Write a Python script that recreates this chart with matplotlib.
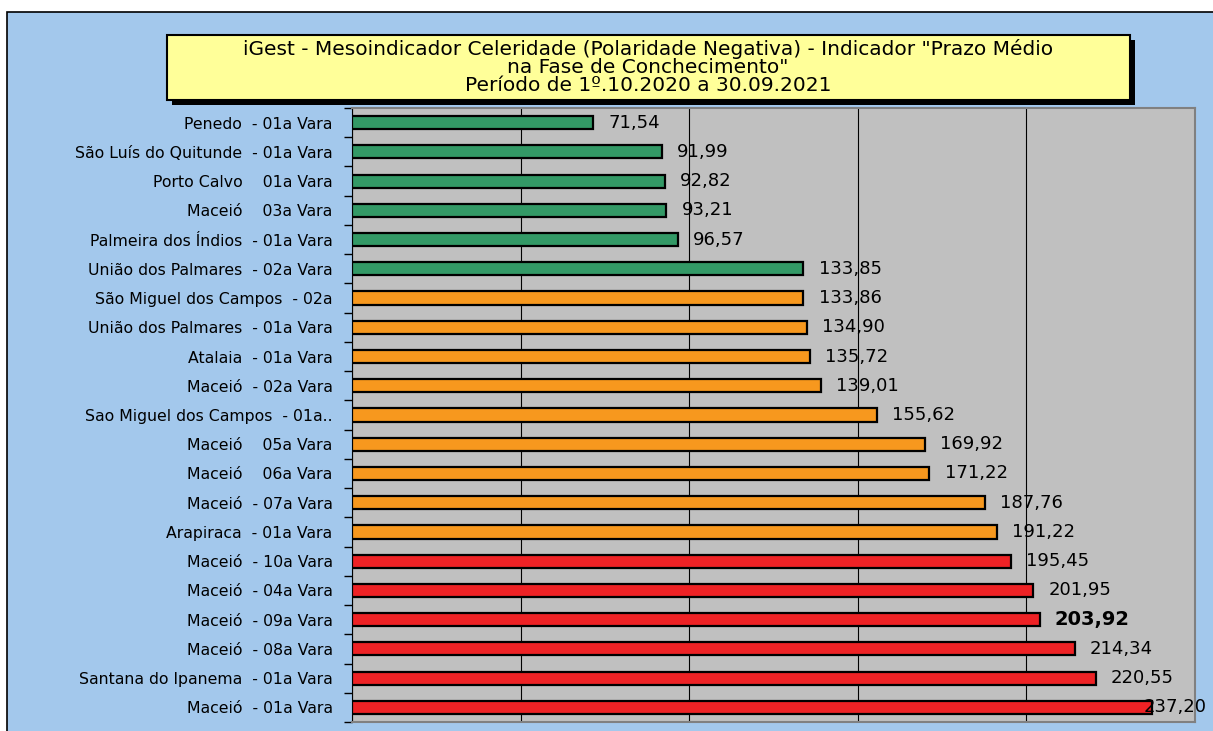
"""Recreate the iGest Prazo Medio horizontal bar chart."""

import matplotlib.pyplot as plt
from matplotlib.patches import Rectangle

plt.rcParams["font.family"] = ["DejaVu Sans"]

categories = [
    "Penedo  - 01a Vara",
    "São Luís do Quitunde  - 01a Vara",
    "Porto Calvo    01a Vara",
    "Maceió    03a Vara",
    "Palmeira dos Índios  - 01a Vara",
    "União dos Palmares  - 02a Vara",
    "São Miguel dos Campos  - 02a",
    "União dos Palmares  - 01a Vara",
    "Atalaia  - 01a Vara",
    "Maceió  - 02a Vara",
    "Sao Miguel dos Campos  - 01a..",
    "Maceió    05a Vara",
    "Maceió    06a Vara",
    "Maceió  - 07a Vara",
    "Arapiraca  - 01a Vara",
    "Maceió  - 10a Vara",
    "Maceió  - 04a Vara",
    "Maceió  - 09a Vara",
    "Maceió  - 08a Vara",
    "Santana do Ipanema  - 01a Vara",
    "Maceió  - 01a Vara",
]
values = [71.54, 91.99, 92.82, 93.21, 96.57, 133.85, 133.86, 134.90, 135.72,
          139.01, 155.62, 169.92, 171.22, 187.76, 191.22, 195.45, 201.95,
          203.92, 214.34, 220.55, 237.20]
groups = ["verde"] * 6 + ["laranja"] * 9 + ["vermelho"] * 6
highlight = "Maceió  - 09a Vara"

group_colors = {"verde": "#339966", "laranja": "#F7981E", "vermelho": "#EE2225"}
x_max = 250
x_ticks = [0, 50, 100, 150, 200, 250]

fig = plt.figure(figsize=(12.13, 7.31), dpi=100, facecolor="white")

# blue chart background with black border on top/left
fig.patches.append(Rectangle((7 / 1213, -0.01), 1.01, 1 - 12 / 731 + 0.01,
                             transform=fig.transFigure, facecolor="#A3C8EC",
                             edgecolor="black", linewidth=1.2, zorder=-5))

ax = fig.add_axes([352 / 1213, 9 / 731, (1195 - 352) / 1213, (722 - 108) / 731])
ax.set_facecolor("#C0C0C0")

ypos = list(range(len(categories)))
colors = [group_colors[g] for g in groups]
ax.barh(ypos, values, height=0.45, color=colors, edgecolor="black",
        linewidth=1.6, zorder=3)

ax.set_xlim(0, x_max)
ax.set_ylim(len(categories) - 0.5, -0.5)
ax.set_xticks(x_ticks)
ax.tick_params(axis="x", length=0, labelbottom=False)
ax.grid(axis="x", color="black", linewidth=0.8, zorder=1)

ax.set_yticks(ypos)
ax.set_yticklabels(categories, fontsize=11.3)
ax.set_yticks([i - 0.5 for i in range(len(categories) + 1)], minor=True)
ax.tick_params(axis="y", which="major", length=0, pad=14)
ax.tick_params(axis="y", which="minor", length=6, width=1, direction="out")

ax.spines["left"].set_color("black")
for side in ["right", "bottom", "top"]:
    ax.spines[side].set_color("#808080")
    ax.spines[side].set_linewidth(1.5)

for y, (cat, v) in enumerate(zip(categories, values)):
    label = f"{v:.2f}".replace(".", ",")
    weight = "bold" if cat == highlight else "normal"
    size = 14 if cat == highlight else 13
    if v + 28 > x_max:
        # label pushed back over the bar, as in the original
        ax.text(x_max + 3.5, y, label, ha="right", va="center", fontsize=size,
                fontweight=weight, zorder=4, clip_on=False)
    else:
        ax.text(v + 4.5, y, label, ha="left", va="center", fontsize=size,
                fontweight=weight, zorder=4)

# title box with shadow
shadow = Rectangle((172 / 1213, 1 - 105 / 731), (1130 - 167) / 1213, 65 / 731,
                   transform=fig.transFigure, facecolor="black", zorder=5)
box = Rectangle((167 / 1213, 1 - 100 / 731), (1130 - 167) / 1213, 65 / 731,
                transform=fig.transFigure, facecolor="#FFFF99",
                edgecolor="black", linewidth=1.5, zorder=6)
fig.patches.extend([shadow, box])
title = ('iGest - Mesoindicador Celeridade (Polaridade Negativa) - Indicador "Prazo Médio\n'
         'na Fase de Conchecimento"\n'
         'Período de 1º.10.2020 a 30.09.2021')
fig.text(648 / 1213, 1 - 67 / 731, title, ha="center", va="center",
         fontsize=14.5, linespacing=0.91, zorder=7)

fig.savefig("out.png", dpi=100, facecolor=fig.get_facecolor())
